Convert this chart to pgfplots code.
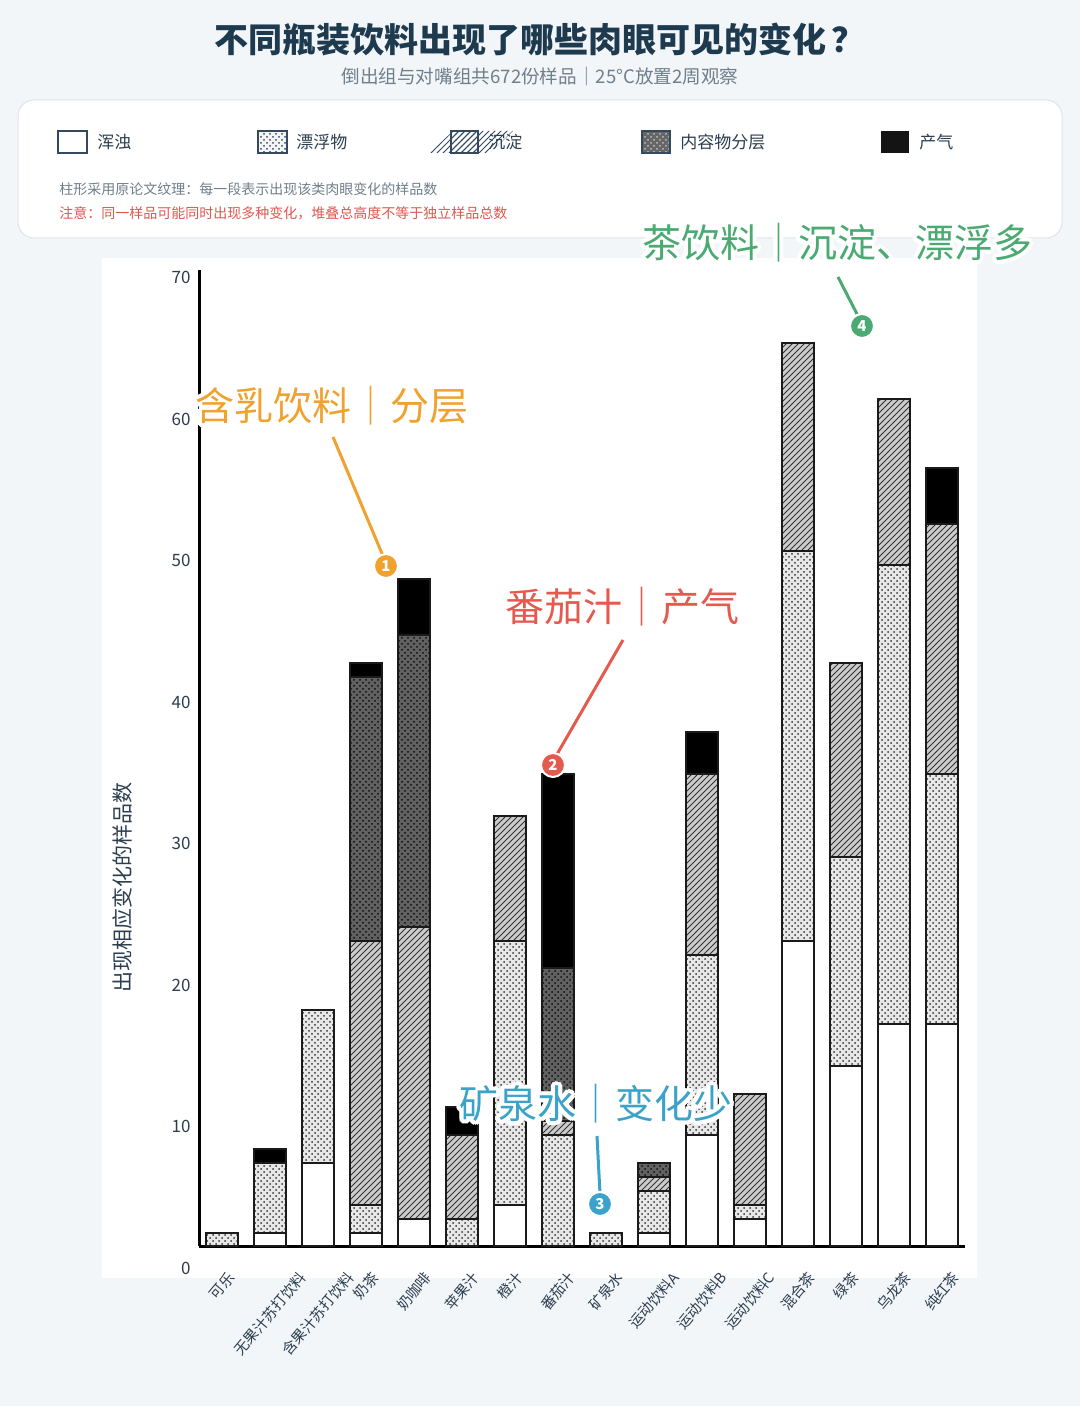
\documentclass[border=0pt]{standalone}
\usepackage{fontspec}
\setmainfont{Noto Sans CJK SC}
\usepackage{graphicx}
\usepackage{pgfplots}
\pgfplotsset{compat=1.18}
\usetikzlibrary{patterns,calc}

\definecolor{bg}{HTML}{F3F6F8}
\definecolor{titlecol}{HTML}{1E3A4F}
\definecolor{subcol}{HTML}{6F7F8C}
\definecolor{textcol}{HTML}{2C3E50}
\definecolor{edgecol}{HTML}{34495E}
\definecolor{boxline}{HTML}{DDE4EA}
\definecolor{notered}{HTML}{E0574F}
\definecolor{annoorange}{HTML}{F0A22E}
\definecolor{annored}{HTML}{E55A4E}
\definecolor{annoblue}{HTML}{3BA3C9}
\definecolor{annogreen}{HTML}{4AAA72}
\definecolor{barline}{HTML}{1A1A1A}

\pgfplotsset{
  turbid/.style={fill=white, draw=barline, line width=1pt},
  floats/.style={preaction={fill=black!9}, pattern=crosshatch dots, pattern color=black!80, draw=barline, line width=1pt},
  sediment/.style={preaction={fill=black!20}, pattern=north east lines, pattern color=black!80, draw=barline, line width=1pt},
  layered/.style={preaction={fill=black!62}, pattern=crosshatch dots, pattern color=black!95, draw=barline, line width=1pt},
  gas/.style={fill=black, draw=barline, line width=1pt},
}

\newcommand\rl[1]{\rotatebox{50}{#1}}
\newcommand\annofont{\fontsize{19.5}{21}\selectfont}
% coloured text with a white halo; x, y in pixels from the top left
\newcommand\halotext[4]{%
  \foreach \a in {0,22.5,...,337.5}{\node[font=\annofont,text=white] at ($(#1,1406-#2)+(\a:4)$) {#4};}
  \node[font=\annofont,text=#3] at (#1,1406-#2) {#4};}
\newcommand\badge[4]{%
  \node[circle, fill=#3, draw=white, line width=1pt, minimum size=12pt, inner sep=0pt,
        text=white, font=\fontsize{7.5}{8}\selectfont\bfseries] at (#1,1406-#2) {#4};}

\begin{document}
\begin{tikzpicture}[x=0.5pt,y=0.5pt]
\fill[bg] (0,0) rectangle (1080,1406);

% title block
\node[font=\fontsize{17}{19}\selectfont\bfseries, text=titlecol] at (540,1406-40) {不同瓶装饮料出现了哪些肉眼可见的变化\,？};
\node[font=\fontsize{9.3}{11}\selectfont, text=subcol] at (540,1406-76) {倒出组与对嘴组共672份样品｜25°C放置2周观察};

% legend box
\draw[boxline, fill=white, line width=0.5pt, rounded corners=8pt] (18,1406-100) rectangle (1062,1406-238);
\begin{scope}[every node/.style={font=\fontsize{8.5}{10}\selectfont, text=textcol, anchor=west, inner sep=0pt}]
\draw[edgecol, line width=0.8pt, fill=white] (58,1406-131) rectangle (87,1406-153);
\node at (97,1406-142) {浑浊};
\fill[black!4] (258,1406-131) rectangle (287,1406-153);
\fill[pattern=crosshatch dots, pattern color=edgecol] (258,1406-131) rectangle (287,1406-153);
\draw[edgecol, line width=0.8pt] (258,1406-131) rectangle (287,1406-153);
\node at (296,1406-142) {漂浮物};
\node at (488,1406-142) {沉淀};
\fill[pattern=north east lines, pattern color=edgecol] (430,1406-153) -- (490,1406-153) -- (513,1406-131) -- (453,1406-131) -- cycle;
\fill[pattern=north east lines, pattern color=edgecol] (451,1406-131) rectangle (478,1406-153);
\draw[edgecol, line width=0.8pt] (451,1406-131) rectangle (478,1406-153);
\fill[black!60] (642,1406-131) rectangle (670,1406-153);
\fill[pattern=crosshatch dots, pattern color=black!25] (642,1406-131) rectangle (670,1406-153);
\draw[edgecol, line width=0.8pt] (642,1406-131) rectangle (670,1406-153);
\node at (680,1406-142) {内容物分层};
\fill[black!92] (881,1406-131) rectangle (909,1406-153);
\node at (919,1406-142) {产气};
\node[font=\fontsize{7}{8}\selectfont, text=subcol] at (59,1406-189) {柱形采用原论文纹理：每一段表示出现该类肉眼变化的样品数};
\node[font=\fontsize{7}{8}\selectfont, text=notered] at (59,1406-213) {注意：同一样品可能同时出现多种变化，堆叠总高度不等于独立样品总数};
\end{scope}

% chart panel
\fill[white] (102,1406-258) rectangle (977,1406-1278);
\node[rotate=90, font=\fontsize{10.5}{12}\selectfont, text=textcol] at (122,1406-888) {出现相应变化的样品数};

\begin{axis}[
  at={(99.5pt,67.95pt)}, anchor=south west,
  scale only axis, width=383pt, height=500.05pt,
  xmin=-0.48, xmax=15.48, ymin=-1.7, ymax=70.25,
  ybar stacked, bar width=16pt,
  axis line style={draw=none},
  major tick length=0pt,
  clip=false,
  xtick={0,...,15},
  xticklabels={\rl{可乐},\rl{无果汁苏打饮料},\rl{含果汁苏打饮料},\rl{奶茶},\rl{奶咖啡},\rl{苹果汁},\rl{橙汁},\rl{番茄汁},\rl{矿泉水},\rl{运动饮料A},\rl{运动饮料B},\rl{运动饮料C},\rl{混合茶},\rl{绿茶},\rl{乌龙茶},\rl{纯红茶}},
  xticklabel style={anchor=north, inner sep=0pt, font=\fontsize{7.3}{8}\selectfont, text=textcol},
  ytick={-1.55,8.63,18.80,28.98,39.15,49.33,59.50,69.68},
  yticklabels={0,10,20,30,40,50,60,70},
  yticklabel style={anchor=east, inner sep=0pt, xshift=-4pt, font=\fontsize{8.5}{10}\selectfont, text=textcol},
]
% 浑浊
\addplot[turbid] coordinates {(0,0) (1,1) (2,6) (3,1) (4,2) (5,0) (6,3) (7,0) (8,0) (9,1) (10,8) (11,2) (12,22) (13,13) (14,16) (15,16)};
% 漂浮物
\addplot[floats] coordinates {(0,1) (1,5) (2,11) (3,2) (4,0) (5,2) (6,19) (7,8) (8,1) (9,3) (10,13) (11,1) (12,28) (13,15) (14,33) (15,18)};
% 沉淀
\addplot[sediment] coordinates {(0,0) (1,0) (2,0) (3,19) (4,21) (5,6) (6,9) (7,1) (8,0) (9,1) (10,13) (11,8) (12,15) (13,14) (14,12) (15,18)};
% 内容物分层
\addplot[layered] coordinates {(0,0) (1,0) (2,0) (3,19) (4,21) (5,0) (6,0) (7,11) (8,0) (9,1) (10,0) (11,0) (12,0) (13,0) (14,0) (15,0)};
% 产气
\addplot[gas] coordinates {(0,0) (1,1) (2,0) (3,1) (4,4) (5,2) (6,0) (7,14) (8,0) (9,0) (10,3) (11,0) (12,0) (13,0) (14,0) (15,4)};
\draw[black, line width=1.5pt] (axis cs:-0.48,0) -- (axis cs:15.48,0);
\draw[black, line width=1.5pt] (axis cs:-0.48,0) -- (axis cs:-0.48,70.25);
\end{axis}

% call-outs
\draw[annoorange, line width=1.5pt] (333,1406-437) -- (383,1406-556);
\badge{386}{566}{annoorange}{1}
\halotext{332}{406}{annoorange}{含乳饮料｜分层}
\draw[annored, line width=1.5pt] (623,1406-640) -- (556,1406-756);
\badge{553}{765}{annored}{2}
\halotext{622}{607}{annored}{番茄汁｜产气}
\draw[annoblue, line width=1.5pt] (597,1406-1136) -- (600,1406-1194);
\badge{600}{1204}{annoblue}{3}
\halotext{596}{1104}{annoblue}{矿泉水｜变化少}
\draw[annogreen, line width=1.5pt] (838,1406-277) -- (858,1406-316);
\badge{862}{326}{annogreen}{4}
\halotext{837}{243}{annogreen}{茶饮料｜沉淀、漂浮多}

\pgfresetboundingbox
\path (0,0) rectangle (1080,1406);
\end{tikzpicture}
\end{document}
